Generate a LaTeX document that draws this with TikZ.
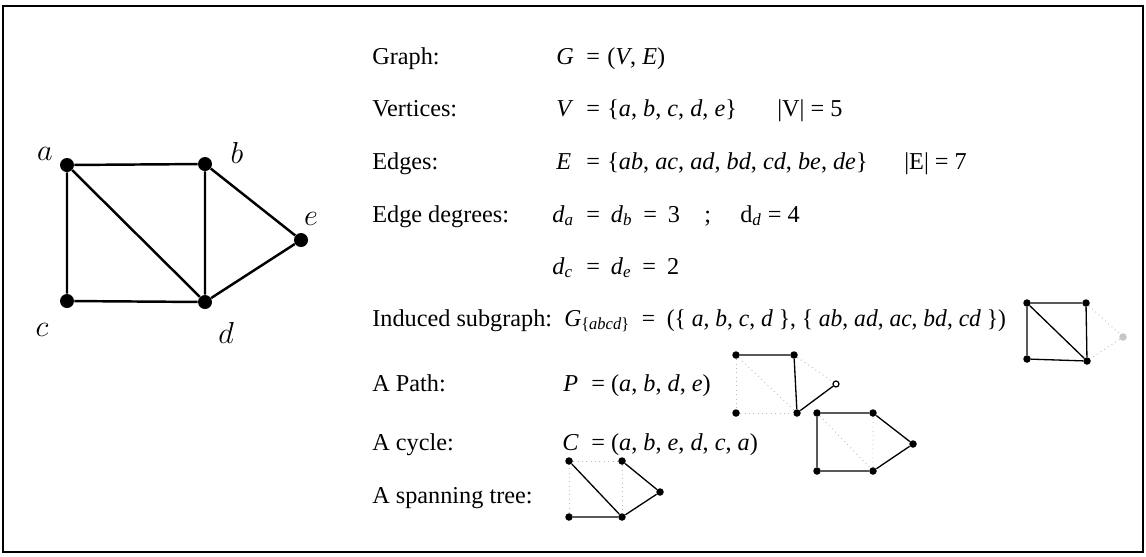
\documentclass[tikz,border=0pt]{standalone}
\usepackage{fontspec}
\setmainfont{Liberation Serif}
\usetikzlibrary{positioning}

\begin{document}
\begin{tikzpicture}[x=0.02cm, y=-0.02cm,
    vert/.style={circle, fill=black, inner sep=0pt, minimum size=0.28cm},
    svert/.style={circle, fill=black, inner sep=0pt, minimum size=0.15cm},
    edge/.style={line width=1.4pt},
    sedge/.style={line width=0.75pt},
    faint/.style={gray!55, dotted, line width=0.5pt},
    vlbl/.style={inner sep=0pt, font=\fontsize{18}{18}\selectfont},
    txt/.style={anchor=base west, inner sep=0pt, font=\fontsize{13.8}{16}\selectfont}]
    \useasboundingbox (0,0) rectangle (1146,556);
    % Frame
    \draw[line width=0.6pt] (3,6) rectangle (1143,552);

    % Main graph
    \node[vert] (a) at (67,165) {};
    \node[vert] (b) at (205,164) {};
    \node[vert] (c) at (67,301) {};
    \node[vert] (d) at (205,302) {};
    \node[vert] (e) at (301,240) {};
    \node[vlbl] (la) at (45,154) {$a$};
    \node[vlbl] (lb) at (237,153) {$b$};
    \node[vlbl] (lc) at (42,330) {$c$};
    \node[vlbl] (ld) at (226,333) {$d$};
    \node[vlbl] (le) at (311,219) {$e$};
    \draw[edge] (a) -- (b) -- (d) -- (c) -- (a);
    \draw[edge] (a) -- (d);
    \draw[edge] (b) -- (e) -- (d);

    % Left column
    \node[txt] (tgraph) at (372,64) {Graph:};
    \node[txt] (tvert) at (372,116) {Vertices:};
    \node[txt] (tedge) at (372,169) {Edges:};
    \node[txt] (tdeg) at (372,222) {Edge degrees:};
    \node[txt] (tind) at (372,326) {Induced subgraph:};
    \node[txt] (tpath) at (372,391) {A Path:};
    \node[txt] (tcyc) at (372,450) {A cycle:};
    \node[txt] (ttree) at (372,503) {A spanning tree:};

    % Formulas
    \node[txt] (sG) at (556,64) {\textit{G}};
    \node[txt] (eG) at (586,64) {=};
    \node[txt] (fG) at (607,64) {(\textit{V}, \textit{E})};
    \node[txt] (sV) at (556,116) {\textit{V}};
    \node[txt] (eV) at (586,116) {=};
    \node[txt] (fV) at (607,116) {\{\textit{a}, \textit{b}, \textit{c}, \textit{d}, \textit{e}\}};
    \node[txt] (cV) at (777,116) {|V| = 5};
    \node[txt] (sE) at (556,169) {\textit{E}};
    \node[txt] (eE) at (586,169) {=};
    \node[txt] (fE) at (607,169) {\{\textit{ab}, \textit{ac}, \textit{ad}, \textit{bd}, \textit{cd}, \textit{be}, \textit{de}\}};
    \node[txt] (cE) at (904,169) {|E| = 7};
    \node[txt] (sda) at (552,222) {\textit{d}\textsubscript{\textit{a}}};
    \node[txt] (fda) at (586,222) {=\hspace{0.45em}\textit{d}\textsubscript{\textit{b}}\hspace{0.2em} =\hspace{0.45em}3};
    \node[txt] (semi) at (704,222) {;};
    \node[txt] (fdd) at (740,222) {d\textsubscript{\textit{d}} = 4};
    \node[txt] (sdc) at (552,274) {\textit{d}\textsubscript{\textit{c}}};
    \node[txt] (fdc) at (586,274) {=\hspace{0.45em}\textit{d}\textsubscript{\textit{e}}\hspace{0.2em} =\hspace{0.45em}2};
    \node[txt] (find) at (564,326) {\scalebox{0.97}[1]{\textit{G}\textsubscript{\{\textit{abcd}\}}\hspace{0.5em}=\hspace{0.5em}(\{ \textit{a}, \textit{b}, \textit{c}, \textit{d} \}, \{ \textit{ab}, \textit{ad}, \textit{ac}, \textit{bd}, \textit{cd} \})}};
    \node[txt] (sP) at (563,391) {\textit{P}};
    \node[txt] (fP) at (591,391) {= (\textit{a}, \textit{b}, \textit{d}, \textit{e})};
    \node[txt] (sC) at (562,450) {\textit{C}};
    \node[txt] (fC) at (591,450) {= (\textit{a}, \textit{b}, \textit{e}, \textit{d}, \textit{c}, \textit{a})};

    % Induced subgraph
    \node[svert] (ia) at (1027,303) {};
    \node[svert] (ib) at (1086,303) {};
    \node[svert] (ic) at (1027,359) {};
    \node[svert] (id) at (1087,361) {};
    \node[svert, fill=gray!45] (ie) at (1123,337) {};
    \draw[faint] (ib) -- (ie) -- (id);
    \draw[sedge] (ia) -- (ib) -- (id) -- (ic) -- (ia);
    \draw[sedge] (ia) -- (id);

    % Path
    \node[svert] (pa) at (736,355) {};
    \node[svert] (pb) at (794,355) {};
    \node[svert] (pc) at (736,413) {};
    \node[svert] (pd) at (797,413) {};
    \node[circle, draw=black, fill=white, line width=0.7pt, inner sep=0pt, minimum size=0.12cm] (pe) at (836,384) {};
    \draw[faint] (pa) -- (pc) -- (pd);
    \draw[faint] (pa) -- (pd);
    \draw[faint] (pb) -- (pe);
    \draw[sedge] (pa) -- (pb) -- (pd) -- (pe);

    % Cycle
    \node[svert] (ca) at (817,413) {};
    \node[svert] (cb) at (873,413) {};
    \node[svert] (cc) at (817,471) {};
    \node[svert] (cd) at (873,471) {};
    \node[svert] (ce) at (913,444) {};
    \draw[faint] (ca) -- (cd) -- (cb);
    \draw[sedge] (ca) -- (cb) -- (ce) -- (cd) -- (cc) -- (ca);

    % Spanning tree
    \node[svert] (ta) at (569,461) {};
    \node[svert] (tb) at (622,461) {};
    \node[svert] (tc) at (569,517) {};
    \node[svert] (td) at (622,517) {};
    \node[svert] (te) at (660,492) {};
    \draw[faint] (tc) -- (ta) -- (tb) -- (td);
    \draw[sedge] (ta) -- (td) -- (tc);
    \draw[sedge] (tb) -- (te) -- (td);
\end{tikzpicture}
\end{document}
